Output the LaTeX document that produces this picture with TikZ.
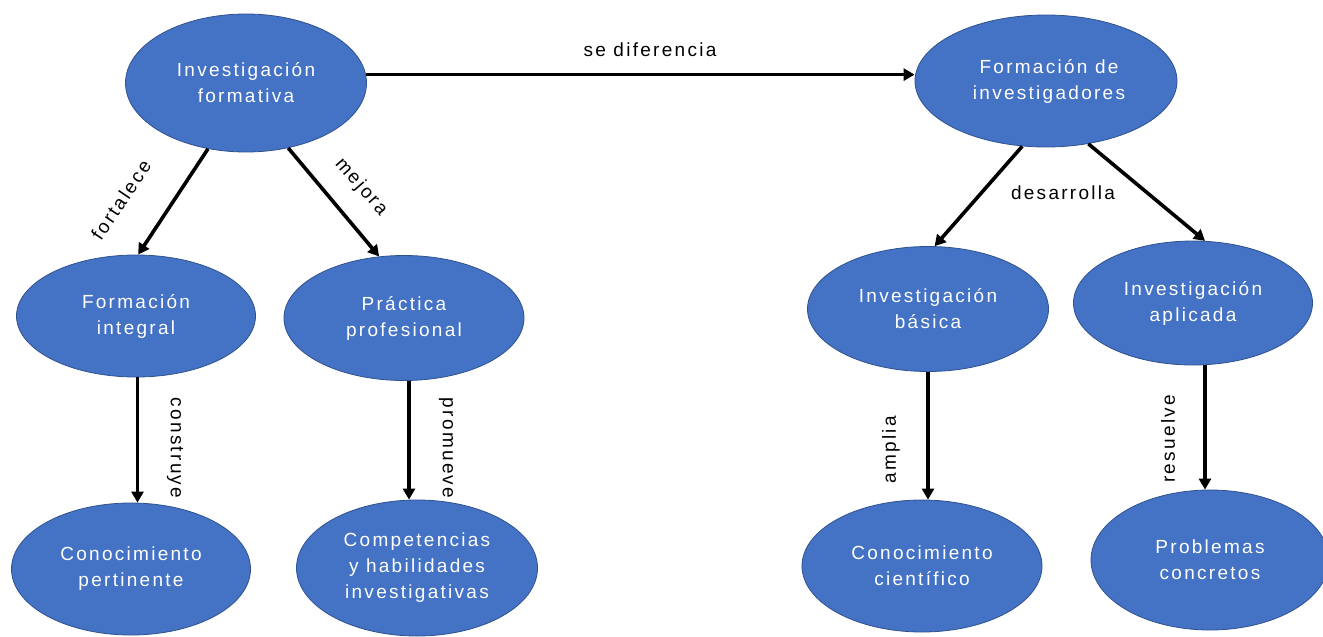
\documentclass[tikz,border=0pt]{standalone}
\usepackage{fontspec}
\setmainfont{Liberation Sans}[LetterSpace=12]
\usetikzlibrary{shapes.geometric,arrows.meta}
\definecolor{nodeblue}{HTML}{4472C4}
\definecolor{nodeedge}{HTML}{2F528F}
\tikzset{
  concept/.style={ellipse, fill=nodeblue, draw=nodeedge, line width=0.8pt,
    inner sep=0pt, align=center, text=white,
    font=\fontsize{19}{26}\selectfont},
  arr/.style={line width=3.6pt, -{Triangle[length=11pt,width=12pt]}, black},
  lbl/.style={inner sep=0pt, text=black, font=\fontsize{19}{22}\selectfont}
}
\begin{document}
\begin{tikzpicture}[x=1pt,y=-1pt]
\useasboundingbox (0,0) rectangle (1323,637);
% nodes
\node[concept, minimum width=241pt, minimum height=138pt] (if) at (246,83) {Investigación\\formativa};
\node[concept, minimum width=262pt, minimum height=132pt] (fd) at (1046,81) {\hspace*{6pt}Formación de\\\hspace*{6pt}investigadores};
\node[concept, minimum width=239pt, minimum height=122pt] (fi) at (136,316) {Formación\\integral};
\node[concept, minimum width=240pt, minimum height=125pt] (pp) at (404,318) {Práctica\\profesional};
\node[concept, minimum width=241pt, minimum height=125pt] (ib) at (928,309) {Investigación\\básica};
\node[concept, minimum width=239pt, minimum height=124pt] (ia) at (1193,303) {Investigación\\aplicada};
\node[concept, minimum width=239pt, minimum height=132pt] (cp) at (131,569) {Conocimiento\\pertinente};
\node[concept, minimum width=241pt, minimum height=136pt] (ch) at (417,568) {Competencias\\y habilidades\\investigativas};
\node[concept, minimum width=240pt, minimum height=132pt] (cc) at (922,566) {Conocimiento\\científico};
\node[concept, minimum width=238pt, minimum height=140pt] (pc) at (1210,560) {Problemas\\concretos};
% connectors
\draw[arr] (if.4) -- (if.4 -| fd.west);
\draw[arr] (if.240) -- (fi.88);
\draw[arr] (if.303) -- (pp.112);
\draw[arr] ([xshift=1.5pt]fi.south) -- ([xshift=1.5pt]fi.south |- cp.north);
\draw[arr] ([xshift=5pt]pp.south) -- ([xshift=5pt]pp.south |- ch.north);
\draw[arr] (fd.250) -- (ib.84);
\draw[arr] (fd.304) -- (ia.79);
\draw[arr] (ib.south) -- (ib.south |- cc.north);
\draw[arr] ([xshift=12pt]ia.south) -- ([xshift=12pt]ia.south |- pc.north);
% labels
\node[lbl] (l1) at (650,50) {se diferencia};
\node[lbl, rotate=56] (l2) at (121,200) {fortalece};
\node[lbl, rotate=-49] (l3) at (361,187) {mejora};
\node[lbl, rotate=-90] (l4) at (175,448) {construye};
\node[lbl, rotate=-90] (l5) at (446,448) {promueve};
\node[lbl] (l6) at (1063,193) {desarrolla};
\node[lbl, rotate=90] (l7) at (891,450) {amplia};
\node[lbl, rotate=90] (l8) at (1168,439) {resuelve};
\end{tikzpicture}
\end{document}
